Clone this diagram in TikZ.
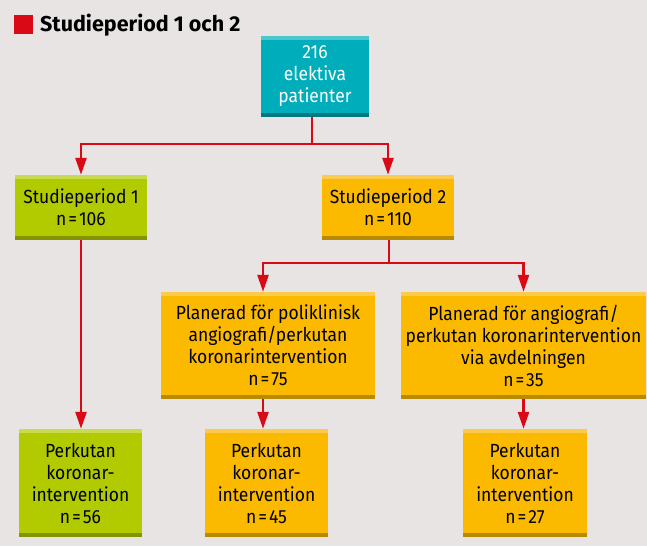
\documentclass[tikz,border=0pt]{standalone}
\usepackage{fontspec}
\setmainfont{Fira Sans}
\newfontfamily\boxfont[FakeStretch=0.92]{Fira Sans}
\newcommand{\eqs}{\kern2pt=\kern2pt}
\usetikzlibrary{arrows.meta}
\definecolor{bg}{HTML}{E9E4E4}
\definecolor{redc}{HTML}{D90A16}
\definecolor{teal}{HTML}{00AEBB}
\definecolor{teallt}{HTML}{4DC6CE}
\definecolor{tealdk}{HTML}{007A82}
\definecolor{grn}{HTML}{B1CB00}
\definecolor{grnlt}{HTML}{C8DA4D}
\definecolor{grndk}{HTML}{829500}
\definecolor{org}{HTML}{FBBA00}
\definecolor{orglt}{HTML}{FCCB4D}
\definecolor{orgdk}{HTML}{B88A00}
\tikzset{
  boxbase/.style={inner sep=0pt, align=center, anchor=center,
    font=\boxfont\fontsize{19}{22}\selectfont},
  tealbox/.style={boxbase, fill=teal, text=white,
    path picture={
      \fill[teallt] (path picture bounding box.north west) rectangle ([yshift=-4pt]path picture bounding box.north east);
      \fill[tealdk] (path picture bounding box.south west) rectangle ([yshift=4pt]path picture bounding box.south east);}},
  grnbox/.style={boxbase, fill=grn, text=black,
    path picture={
      \fill[grnlt] (path picture bounding box.north west) rectangle ([yshift=-4pt]path picture bounding box.north east);
      \fill[grndk] (path picture bounding box.south west) rectangle ([yshift=4pt]path picture bounding box.south east);}},
  orgbox/.style={boxbase, fill=org, text=black,
    path picture={
      \fill[orglt] (path picture bounding box.north west) rectangle ([yshift=-4pt]path picture bounding box.north east);
      \fill[orgdk] (path picture bounding box.south west) rectangle ([yshift=4pt]path picture bounding box.south east);}},
  conn/.style={draw=redc, line width=2.6pt, -{Triangle[length=17pt,width=11pt]}, fill=none},
  connplain/.style={draw=redc, line width=2.6pt},
}
\begin{document}
\begin{tikzpicture}[x=1pt,y=-1pt]
\fill[bg] (0,0) rectangle (647,546);
\useasboundingbox (0,0) rectangle (647,546);
% title
\fill[redc] (14,15) rectangle (33,34);
\node[anchor=base west, inner sep=0pt, font=\fontsize{21.5}{24}\selectfont\bfseries] (title) at (40,31) {Studieperiod 1 och 2};
% boxes
\node[tealbox, minimum width=108pt, minimum height=81pt] (A) at (315,76.5) {216\\elektiva\\patienter};
\node[grnbox, minimum width=132pt, minimum height=65pt] (B) at (81,207.5) {Studieperiod 1\\n\eqs106};
\node[orgbox, minimum width=132pt, minimum height=65pt] (C) at (388,207.5) {Studieperiod 2\\n\eqs110};
\node[orgbox, minimum width=214pt, minimum height=107pt] (D) at (268,345.5) {Planerad för poliklinisk\\angiografi/perkutan\\koronarintervention\\n\eqs75};
\node[orgbox, minimum width=245pt, minimum height=107pt] (E) at (523.5,345.5) {Planerad för angiografi/\\perkutan koronarintervention\\via avdelningen\\n\eqs35};
\node[grnbox, minimum width=123pt, minimum height=108pt] (F) at (80.5,483) {Perkutan\\koronar-\\intervention\\n\eqs56};
\node[orgbox, minimum width=123pt, minimum height=108pt] (G) at (266.5,483) {Perkutan\\koronar-\\intervention\\n\eqs45};
\node[orgbox, minimum width=124pt, minimum height=108pt] (H) at (525,483) {Perkutan\\koronar-\\intervention\\n\eqs27};
% connectors
\coordinate (j1) at ([xshift=-3pt]A.south |- 0,144);
\draw[connplain] ([xshift=-3pt]A.south) -- (j1);
\draw[conn] (j1) -| (B.north);
\draw[conn] (j1) -| (C.north);
\coordinate (j2) at ([xshift=1pt]C.south |- 0,263);
\draw[connplain] ([xshift=1pt]C.south) -- (j2);
\draw[conn] (j2) -| ([xshift=-5pt]D.north);
\draw[conn] (j2) -| (E.north);
\draw[conn] (B.south) -- (B.south |- F.north);
\draw[conn] ([xshift=-5pt]D.south) -- ([xshift=-5pt]D.south |- G.north);
\draw[conn] (E.south) -- (E.south |- H.north);
\end{tikzpicture}
\end{document}
